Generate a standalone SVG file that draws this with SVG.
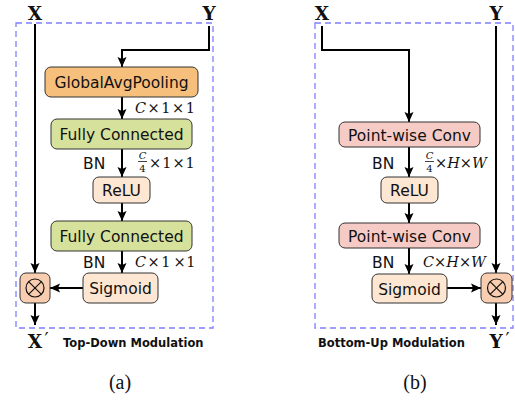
<svg xmlns="http://www.w3.org/2000/svg" width="515" height="400" viewBox="0 0 515 400">
<style>
.frame{fill:none;stroke:#7f7fff;stroke-width:1.3;stroke-dasharray:6 4}
.box{stroke:#333;stroke-width:1}
.orange{fill:#f6c07c}
.green{fill:#d6e29c}
.peach{fill:#fde6d2}
.mult{fill:#f9cdb0}
.pink{fill:#f6cbc6}
.lbl{font-family:"DejaVu Sans",sans-serif;font-size:15.5px;fill:#111;text-anchor:middle}
.bn{font-family:"DejaVu Sans",sans-serif;font-size:15.5px;fill:#111}
.math{font-family:"DejaVu Serif",serif;font-size:14.5px;fill:#111}
.it{font-style:italic}
.frac{font-family:"DejaVu Serif",serif;font-size:10px;fill:#111;text-anchor:middle}
.var{font-family:"DejaVu Serif",serif;font-weight:bold;font-size:18.5px;fill:#111;text-anchor:middle}
.prime{font-family:"DejaVu Serif","Noto Sans",serif;font-size:18px;fill:#111}
.title{font-family:"DejaVu Sans",sans-serif;font-weight:bold;font-size:11.5px;fill:#111}
.cap{font-family:"Liberation Serif",serif;font-size:20px;fill:#111;text-anchor:middle}
.wire{fill:none;stroke:#000;stroke-width:2}
.arr{marker-end:url(#ah)}
.x{stroke:#111;stroke-width:1.2;fill:none}
</style>
<defs>
<marker id="ah" viewBox="0 0 10 10" refX="10" refY="5" markerWidth="10" markerHeight="10" markerUnits="userSpaceOnUse" orient="auto">
<path d="M0,0.5 L10,5 L0,9.5 L2,5 z" fill="#000"/>
</marker>
</defs>

<!-- frames -->
<rect class="frame" x="16" y="23" width="197" height="305"/>
<rect class="frame" x="315" y="23" width="198" height="305"/>

<!-- connectors -->
<g id="connectors">
<path class="wire arr" d="M35,24 V273"/>
<path class="wire arr" d="M209,26 V50 H122 V67"/>
<path class="wire arr" d="M122,97 V119"/>
<path class="wire arr" d="M122,149 V177"/>
<path class="wire arr" d="M122,203 V221"/>
<path class="wire arr" d="M122,251 V273"/>
<path class="wire arr" d="M83,288 H50"/>
<path class="wire arr" d="M35,303 V325"/>

<path class="wire arr" d="M322,26 V50 H409 V122"/>
<path class="wire arr" d="M409,147 V177"/>
<path class="wire arr" d="M409,203 V223"/>
<path class="wire arr" d="M409,248 V274"/>
<path class="wire arr" d="M447,288 H481"/>
<path class="wire arr" d="M496,26 V273"/>
<path class="wire arr" d="M496,303 V325"/>
</g>

<!-- left panel nodes -->
<g id="gap">
<rect class="box orange" x="45" y="67" width="153" height="30" rx="6"/>
<text class="lbl" x="121.5" y="88">GlobalAvgPooling</text>
</g>
<g id="fc1">
<rect class="box green" x="51" y="119" width="141" height="30" rx="6"/>
<text class="lbl" x="121.5" y="140">Fully Connected</text>
</g>
<g id="relu1">
<rect class="box peach" x="93" y="177" width="57" height="26" rx="6"/>
<text class="lbl" x="121.5" y="196">ReLU</text>
</g>
<g id="fc2">
<rect class="box green" x="51" y="221" width="141" height="30" rx="6"/>
<text class="lbl" x="121.5" y="242">Fully Connected</text>
</g>
<g id="sig1">
<rect class="box peach" x="83" y="273" width="75" height="30" rx="6"/>
<text class="lbl" x="120.5" y="294">Sigmoid</text>
</g>
<g id="mul1">
<rect class="box mult" x="20" y="273" width="30" height="30" rx="6"/>
<circle class="x" cx="35" cy="288" r="9"/>
<path class="x" d="M28.6,281.6 L41.4,294.4 M41.4,281.6 L28.6,294.4"/>
</g>

<!-- left labels -->
<text class="math" x="135" y="113"><tspan class="it">C</tspan><tspan dx="1.5">×</tspan><tspan dx="1.5">1</tspan><tspan dx="1.5">×</tspan><tspan dx="1.5">1</tspan></text>
<text class="bn" x="83" y="169">BN</text>
<text class="frac it" x="142.5" y="159">C</text>
<line x1="138" y1="161.5" x2="147" y2="161.5" stroke="#111" stroke-width="0.8"/>
<text class="frac" x="142.5" y="172">4</text>
<text class="math" x="149" y="168">×<tspan dx="1">1</tspan><tspan dx="1">×</tspan><tspan dx="1">1</tspan></text>
<text class="bn" x="83" y="268">BN</text>
<text class="math" x="135" y="267"><tspan class="it">C</tspan><tspan dx="1.5">×</tspan><tspan dx="1.5">1</tspan><tspan dx="3">×</tspan><tspan dx="0.5">1</tspan></text>

<text class="var" x="35" y="348">X</text>
<text class="prime" x="44.5" y="346">&#8242;</text>
<text class="var" x="35" y="20">X</text>
<text class="var" x="209" y="20">Y</text>
<text class="title" x="63" y="347">Top-Down Modulation</text>
<text class="cap" x="120" y="389">(a)</text>

<!-- right panel nodes -->
<g id="pwc1">
<rect class="box pink" x="339" y="122" width="141" height="25" rx="6"/>
<text class="lbl" x="409.5" y="140.5">Point-wise Conv</text>
</g>
<g id="relu2">
<rect class="box peach" x="381" y="177" width="57" height="26" rx="6"/>
<text class="lbl" x="409.5" y="196">ReLU</text>
</g>
<g id="pwc2">
<rect class="box pink" x="339" y="223" width="141" height="25" rx="6"/>
<text class="lbl" x="409.5" y="241.5">Point-wise Conv</text>
</g>
<g id="sig2">
<rect class="box peach" x="372" y="274" width="75" height="29" rx="6"/>
<text class="lbl" x="409.5" y="294.5">Sigmoid</text>
</g>
<g id="mul2">
<rect class="box mult" x="481" y="273" width="31" height="30" rx="6"/>
<circle class="x" cx="496.5" cy="288" r="9"/>
<path class="x" d="M490.1,281.6 L502.9,294.4 M502.9,281.6 L490.1,294.4"/>
</g>

<!-- right labels -->
<text class="bn" x="372" y="169">BN</text>
<text class="frac it" x="429.5" y="159">C</text>
<line x1="425" y1="161.5" x2="434" y2="161.5" stroke="#111" stroke-width="0.8"/>
<text class="frac" x="429.5" y="172">4</text>
<text class="math" x="435" y="168">×<tspan class="it">H</tspan>×<tspan class="it">W</tspan></text>
<text class="bn" x="372" y="268">BN</text>
<text class="math" x="423" y="267"><tspan class="it">C</tspan>×<tspan class="it">H</tspan>×<tspan class="it">W</tspan></text>

<text class="var" x="322" y="20">X</text>
<text class="var" x="496" y="20">Y</text>
<text class="var" x="496" y="348">Y</text>
<text class="prime" x="505.5" y="346">&#8242;</text>
<text class="title" x="318" y="347">Bottom-Up Modulation</text>
<text class="cap" x="415" y="389">(b)</text>
</svg>
